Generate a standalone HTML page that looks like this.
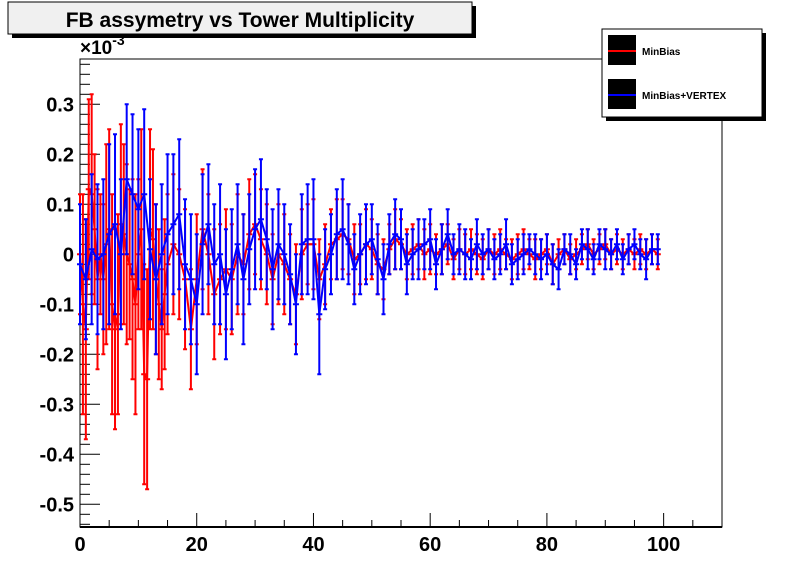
<!DOCTYPE html>
<html><head><meta charset="utf-8"><style>
html,body{margin:0;padding:0;background:#fff}
svg{display:block;font-family:"Liberation Sans",Arial,sans-serif}
</style></head><body>
<svg id="chart" width="803" height="587" viewBox="0 0 803 587" xmlns="http://www.w3.org/2000/svg">
<rect x="0" y="0" width="803" height="587" fill="#fff"/>
<g>
<rect x="12" y="6" width="464" height="32" fill="#000"/>
<rect x="8" y="2" width="464" height="32" fill="#f0f0f0" stroke="#000" stroke-width="1"/>
<text x="240" y="27" text-anchor="middle" font-size="21" font-weight="bold">FB assymetry vs Tower Multiplicity</text>
</g>
<rect x="80" y="59" width="642" height="468" fill="none" stroke="#000" stroke-width="1"/>
<g id="axes"></g>
<g id="series"></g>
<text x="80" y="54" font-size="19" font-weight="bold">×10<tspan dy="-9" font-size="14">-3</tspan></text>
<g>
<rect x="606" y="33" width="160" height="88" fill="#000"/>
<rect x="602" y="29" width="160" height="88" fill="#fff" stroke="#000" stroke-width="1"/>
<g>
<rect x="608" y="35" width="28" height="30" fill="#000"/>
<line x1="608" y1="51" x2="636" y2="51" stroke="#f00" stroke-width="2"/>
<text x="642" y="55" font-size="10" font-weight="bold">MinBias</text>
</g>
<g>
<rect x="608" y="79" width="28" height="30" fill="#000"/>
<line x1="608" y1="95" x2="636" y2="95" stroke="#00f" stroke-width="2"/>
<text x="642" y="99" font-size="10" font-weight="bold">MinBias+VERTEX</text>
</g>
</g>
</svg>
<script>
const xTickLabels=[0,20,40,60,80,100];
const yTickLabels=[-0.5,-0.4,-0.3,-0.2,-0.1,0,0.1,0.2,0.3];
const redX=[0,0.5,1,1.5,2,2.5,3,3.5,4,4.5,5,5.5,6,6.5,7,7.5,8,8.5,9,9.5,10,10.5,11,11.5,12,12.5,13,13.5,14,14.5,15,
16,17,18,19,20,21,22,23,24,25,26,27,28,29,30,31,32,33,34,35,36,37,38,39,40,41,42,43,44,45,46,47,48,49,50,51,52,53,54,55,56,57,58,59,60,61,62,63,64,65,66,67,68,69,70,71,72,73,74,75,76,77,78,79,80,81,82,83,84,85,86,87,88,89,90,91,92,93,94,95,96,97,98,99];
const redY=[0.0,-0.1,-0.15,0.13,0.12,0.05,-0.05,0.0,-0.05,0.02,0.05,-0.1,-0.15,-0.12,0.06,0.04,0.0,-0.02,-0.05,-0.1,0.0,0.05,-0.24,-0.25,0.05,0.03,-0.05,-0.1,-0.15,-0.08,-0.02,
0.02,0.0,-0.05,-0.15,-0.05,0.05,0.0,-0.08,-0.05,-0.03,
-0.05,0.0,-0.02,0.04,0.06,0.03,0.0,-0.05,0.0,-0.02,
-0.05,-0.08,0.0,0.02,0.02,-0.05,-0.02,0.02,0.03,0.04,
0.03,-0.01,0.0,0.02,0.01,-0.02,-0.03,0.01,0.03,0.02,
0.0,0.01,0.02,0.0,0.01,0.0,0.01,0.02,-0.01,0.01,
0.0,0.01,0.0,-0.01,0.01,0.0,0.01,0.0,-0.01,0.0,
0.01,0.0,-0.01,0.0,0.01,-0.02,0.0,0.01,-0.01,0.0,
0.01,0.02,0.0,0.01,0.02,0.0,0.01,0.0,0.01,0.0,
0.01,0.0,0.01,0.0];
const redErr=[0.12,0.22,0.22,0.18,0.2,0.15,0.18,0.12,0.15,0.2,0.2,0.22,0.2,0.2,0.2,0.18,0.18,0.15,0.2,0.22,0.15,0.2,0.22,0.22,0.2,0.18,0.15,0.15,0.12,0.15,0.14,
0.14,0.13,0.14,0.12,0.13,0.12,0.12,0.13,0.11,0.12,
0.11,0.12,0.1,0.11,0.1,0.1,0.1,0.09,0.1,0.1,
0.09,0.1,0.09,0.08,0.09,0.08,0.08,0.07,0.08,0.07,
0.07,0.07,0.06,0.07,0.06,0.06,0.06,0.05,0.06,0.05,
0.05,0.05,0.05,0.05,0.05,0.04,0.05,0.04,0.04,0.04,
0.04,0.04,0.04,0.04,0.04,0.04,0.04,0.03,0.04,0.04,
0.04,0.03,0.04,0.03,0.03,0.04,0.03,0.03,0.03,0.03,
0.03,0.03,0.03,0.03,0.03,0.03,0.03,0.03,0.03,0.03,
0.03,0.03,0.03,0.03];
const blueY=[-0.02,-0.05,0.01,-0.01,0.0,0.04,0.06,0.0,0.15,0.12,
0.09,0.12,0.01,-0.05,0.0,0.04,0.06,0.08,-0.02,-0.05,
-0.1,0.02,0.06,-0.02,0.0,-0.08,-0.03,0.02,-0.05,0.01,
0.05,0.07,0.03,-0.03,0.02,0.0,-0.04,-0.1,0.02,0.03,
0.03,-0.12,-0.03,0.0,0.04,0.05,0.02,-0.03,0.0,0.02,
0.03,-0.01,-0.05,0.02,0.04,0.03,-0.02,0.0,0.01,0.02,
0.03,-0.02,0.01,0.04,0.0,0.01,0.0,-0.01,0.02,0.0,
0.01,-0.01,0.0,0.02,-0.02,-0.01,0.0,0.01,0.0,-0.01,
0.0,-0.02,-0.03,0.01,0.0,-0.02,0.02,0.01,-0.01,0.02,
0.01,0.0,0.02,-0.01,0.01,0.02,0.0,-0.01,0.01,0.01];
const blueErr=[0.12,0.12,0.15,0.15,0.15,0.18,0.18,0.15,0.15,0.16,
0.16,0.17,0.14,0.15,0.14,0.16,0.14,0.15,0.13,0.13,
0.14,0.14,0.12,0.12,0.14,0.13,0.12,0.12,0.13,0.11,
0.12,0.12,0.1,0.12,0.11,0.1,0.1,0.1,0.1,0.11,
0.12,0.12,0.08,0.08,0.09,0.1,0.08,0.07,0.08,0.08,
0.07,0.07,0.07,0.06,0.07,0.06,0.06,0.05,0.06,0.05,
0.06,0.05,0.05,0.05,0.04,0.05,0.05,0.04,0.05,0.04,
0.04,0.04,0.04,0.05,0.04,0.04,0.04,0.03,0.04,0.04,
0.04,0.04,0.04,0.03,0.04,0.03,0.03,0.04,0.03,0.03,
0.04,0.03,0.03,0.03,0.03,0.03,0.03,0.04,0.03,0.03];

const NS='http://www.w3.org/2000/svg';
const X0=80,X1=722,Y0=59,Y1=527,XMAX=110,YMIN=-0.5456,YZERO=254.3,YPX=500;
function sx(v){return X0+v*(X1-X0)/XMAX;}
function sy(v){return YZERO-v*YPX;}
function mk(tag,attrs,parent){const e=document.createElementNS(NS,tag);for(const k in attrs)e.setAttribute(k,attrs[k]);parent.appendChild(e);return e;}
const axes=document.getElementById('axes');
// x ticks
for(let v=0;v<=XMAX;v+=5){
  const major=v%20===0;
  const t=mk('line',{x1:sx(v),x2:sx(v),y1:Y1,y2:Y1-(major?14:7),stroke:'#000','stroke-width':1},axes);
  
  
}
xTickLabels.forEach(v=>{
  const t=mk('text',{x:sx(v),y:Y1+24,'text-anchor':'middle','font-size':'20','font-weight':'bold'},axes);
  t.textContent=String(v);
  
  
});
// y ticks
for(let i=-27;i<=19;i++){
  const v=i*0.02; const y=sy(v);
  if(y<Y0||y>Y1) continue;
  const major=(i%5===0);
  const t=mk('line',{x1:X0,x2:X0+(major?20:10),y1:y,y2:y,stroke:'#000','stroke-width':1},axes);
  
  
}
yTickLabels.forEach(v=>{
  const t=mk('text',{x:X0-6,y:sy(v)+7,'text-anchor':'end','font-size':'20','font-weight':'bold'},axes);
  t.textContent=v===0?'0':String(v);
  
  
});
mk('line',{x1:X0,x2:X1,y1:Y1,y2:Y1,stroke:'#000','stroke-width':2},axes);
mk('line',{x1:X0,x2:X0,y1:Y0,y2:Y1,stroke:'#000','stroke-width':1},axes);

const series=document.getElementById('series');
function drawSeries(xs,ys,es,color,name){
  const g=mk('g',{},series);
  
  
  let d='';
  xs.forEach((x,i)=>{d+=(i?'L':'M')+sx(x).toFixed(1)+','+sy(ys[i]).toFixed(1);});
  const p=mk('path',{d:d,fill:'none',stroke:color,'stroke-width':2},g);
  
  
  xs.forEach((x,i)=>{
    const cx=sx(x),yt=sy(ys[i]+es[i]),yb=sy(ys[i]-es[i]);
    const b=mk('path',{d:`M${cx},${yt}L${cx},${yb}M${cx-2},${yt}L${cx+2},${yt}M${cx-2},${yb}L${cx+2},${yb}M${cx-3},${sy(ys[i])}L${cx+3},${sy(ys[i])}`,stroke:color,'stroke-width':2,fill:'none'},g);
    
    
  });
}
const blueX=blueY.map((_,i)=>i);
drawSeries(redX,redY,redErr,'#f00','series-minbias');
drawSeries(blueX,blueY,blueErr,'#00f','series-minbias-vertex');
</script>
</body></html>
